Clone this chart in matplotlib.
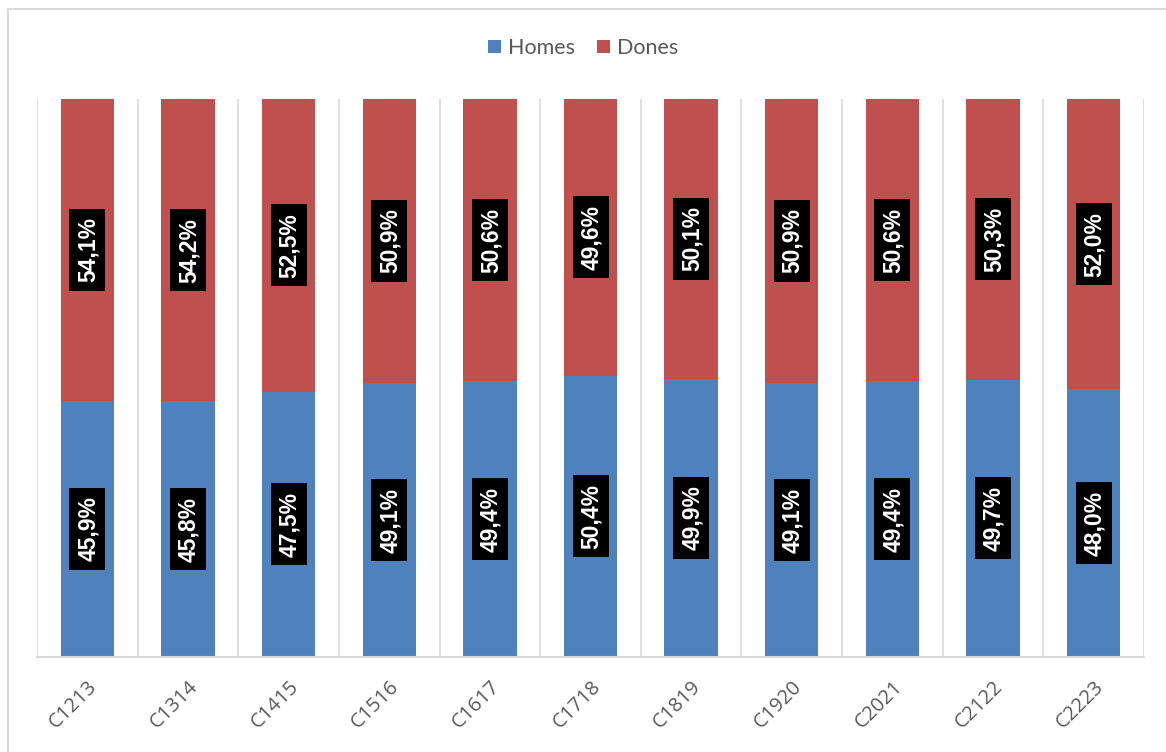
import matplotlib.pyplot as plt
from matplotlib.patches import Rectangle
from matplotlib.lines import Line2D

categories = ["C1213", "C1314", "C1415", "C1516", "C1617", "C1718",
              "C1819", "C1920", "C2021", "C2122", "C2223"]
homes = [45.9, 45.8, 47.5, 49.1, 49.4, 50.4, 49.9, 49.1, 49.4, 49.7, 48.0]
dones = [54.1, 54.2, 52.5, 50.9, 50.6, 49.6, 50.1, 50.9, 50.6, 50.3, 52.0]

BLUE = "#4F81BD"
RED = "#C0504D"
GRID = "#D9D9D9"
TEXT = "#595959"

plt.rcParams["font.family"] = ["Lato", "DejaVu Sans"]

W, H = 1166, 752
fig = plt.figure(figsize=(W / 100, H / 100), dpi=100)
ax_l, ax_r, ax_t, ax_b = 37, 1144, 99, 657
ax = fig.add_axes([ax_l / W, 1 - ax_b / H, (ax_r - ax_l) / W, (ax_b - ax_t) / H])

# outer chart frame (only top and left edges visible in the picture)
fig.lines.append(Line2D([8 / W, 8 / W, 1], [0, 1 - 9 / H, 1 - 9 / H],
                        transform=fig.transFigure, color=GRID, linewidth=1.5))

n = len(categories)
x = range(n)
total = [h + d for h, d in zip(homes, dones)]
h_frac = [h / t for h, t in zip(homes, total)]
d_frac = [d / t for d, t in zip(dones, total)]

ax.vlines([i - 0.5 for i in range(n + 1)], 0, 1, color=GRID, linewidth=1.2, zorder=0)
ax.bar(x, h_frac, width=0.53, color=BLUE, label="Homes", zorder=2)
ax.bar(x, d_frac, width=0.53, bottom=h_frac, color=RED, label="Dones", zorder=2)

# label box size in pixels -> data units
px_x = n / (ax_r - ax_l)
px_y = 1 / (ax_b - ax_t)
bw, bh = 36 * px_x, 82 * px_y
for i in x:
    for val, bottom, frac in ((homes[i], 0, h_frac[i]), (dones[i], h_frac[i], d_frac[i])):
        cy = bottom + frac / 2
        ax.add_patch(Rectangle((i - bw / 2, cy - bh / 2), bw, bh,
                               facecolor="black", edgecolor="none", zorder=3))
        ax.text(i + 1 * px_x, cy, f"{val:.1f}%".replace(".", ","),
                rotation=90, ha="center", va="center", color="white",
                fontsize=16.5, fontweight="bold",
                family=["Liberation Sans", "DejaVu Sans"],
                zorder=4)

ax.set_xlim(-0.5, n - 0.5)
ax.set_ylim(0, 1)
ax.set_yticks([])
ax.set_xticks(list(x))
ax.set_xticklabels(categories, rotation=45, ha="right", rotation_mode="anchor",
                   color=TEXT, fontsize=14.5, family=["Open Sans", "DejaVu Sans"])
ax.tick_params(axis="x", length=0, pad=14)
for s in ["top", "left", "right"]:
    ax.spines[s].set_visible(False)
ax.spines["bottom"].set_color(GRID)
ax.spines["bottom"].set_linewidth(1.5)

fig.legend(loc="center", bbox_to_anchor=(0.5, 1 - 48 / H), ncol=2, frameon=False,
           fontsize=15.5, labelcolor=TEXT, handlelength=0.6, handleheight=0.6,
           handletextpad=0.33, columnspacing=1.0)

fig.savefig("out.png", dpi=100)
